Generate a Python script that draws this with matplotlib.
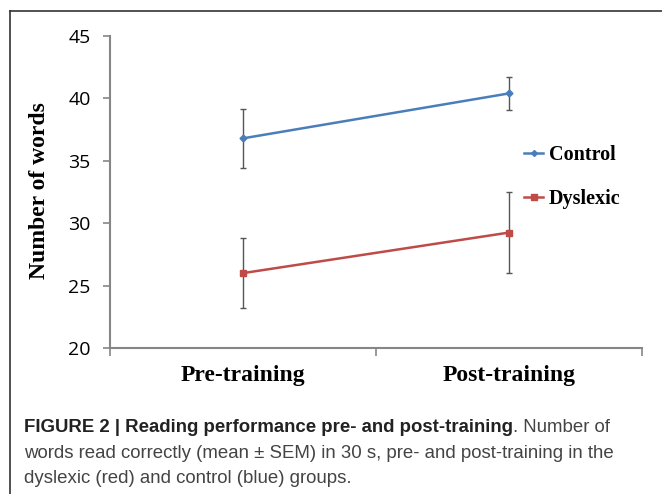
import matplotlib.pyplot as plt
from matplotlib.lines import Line2D
import numpy as np

# ---- data ----
phases = ['Pre-training', 'Post-training']
control_mean = [36.8, 40.4]
control_sem = [2.35, 1.3]
dyslexic_mean = [26.0, 29.25]
dyslexic_sem = [2.8, 3.25]

W, H = 662, 494
fig = plt.figure(figsize=(W / 100, H / 100), dpi=100)

# axes placed in pixels
x0, x1, ytop, ybot = 110, 642, 36, 348
ax = fig.add_axes([x0 / W, 1 - ybot / H, (x1 - x0) / W, (ybot - ytop) / H])

x = np.arange(len(phases))
err_kw = dict(ecolor='#555555', elinewidth=1.0, capsize=2.5, capthick=1.0)

ax.errorbar(x, control_mean, yerr=control_sem, color='#4a7ebb', lw=1.8,
            marker='D', ms=3.5, label='Control', zorder=3, **err_kw)
ax.errorbar(x, dyslexic_mean, yerr=dyslexic_sem, color='#be4b48', lw=1.8,
            marker='s', ms=5, label='Dyslexic', zorder=3, **err_kw)

ax.set_xlim(-0.5, len(phases) - 0.5)
ax.set_ylim(20, 45)
ax.set_yticks(np.arange(20, 46, 5))
ax.set_xticks(np.arange(-0.5, len(phases), 1.0))
ax.set_xticklabels([])
ax.set_xticks(x, minor=True)
ax.set_xticklabels(phases, minor=True, fontfamily='Liberation Serif',
                   fontweight='bold', fontsize=17)
ax.tick_params(axis='x', which='minor', length=0, pad=12)
ax.tick_params(axis='x', which='major', length=6, color='#868686', width=1.2)
ax.tick_params(axis='y', length=5, color='#868686', width=1.2, pad=9,
               labelsize=14)
for lab in ax.get_yticklabels():
    lab.set_fontfamily('Open Sans')

for s in ['top', 'right']:
    ax.spines[s].set_visible(False)
for s in ['left', 'bottom']:
    ax.spines[s].set_color('#868686')
    ax.spines[s].set_linewidth(1.5)

# y label placed directly so its centre matches the reference
fig.text(40 / W, 1 - 191 / H, 'Number of words', rotation=90, ha='center',
         va='center', fontfamily='Liberation Serif', fontweight='bold',
         fontsize=17)

handles = [Line2D([], [], color='#4a7ebb', lw=1.8, marker='D', ms=3),
           Line2D([], [], color='#be4b48', lw=1.8, marker='s', ms=4)]
ax.legend(handles, ['Control', 'Dyslexic'], loc='upper left',
          bbox_to_anchor=(0.745, 0.71), frameon=False, handlelength=0.9,
          handletextpad=0.3, labelspacing=1.2,
          prop=dict(family='Liberation Serif', weight='bold', size=14.5))

# ---- frame lines around the figure ----
fig.add_artist(Line2D([9.5 / W, 9.5 / W], [0, 1 - 11 / H], color='#333333', lw=1.2))
fig.add_artist(Line2D([9.5 / W, 1], [1 - 11 / H, 1 - 11 / H], color='#333333', lw=1.2))

# ---- caption ----
cap_kw = dict(fontfamily='Liberation Sans', fontsize=13.4)
t1 = fig.text(24 / W, 1 - 427 / H, 'FIGURE 2 | Reading performance pre- and post-training',
              fontweight='bold', color='#222222', va='center', **cap_kw)
ax.annotate('. Number of', xy=(1, 0.5), xycoords=t1, va='center', ha='left',
            color='#444444', annotation_clip=False, **cap_kw)
fig.text(24 / W, 1 - 453 / H,
         'words read correctly (mean \u00b1 SEM) in 30 s, pre- and post-training in the',
         color='#444444', va='center', **cap_kw)
fig.text(24 / W, 1 - 478 / H, 'dyslexic (red) and control (blue) groups.',
         color='#444444', va='center', **cap_kw)

fig.savefig('out.png', dpi=100)
